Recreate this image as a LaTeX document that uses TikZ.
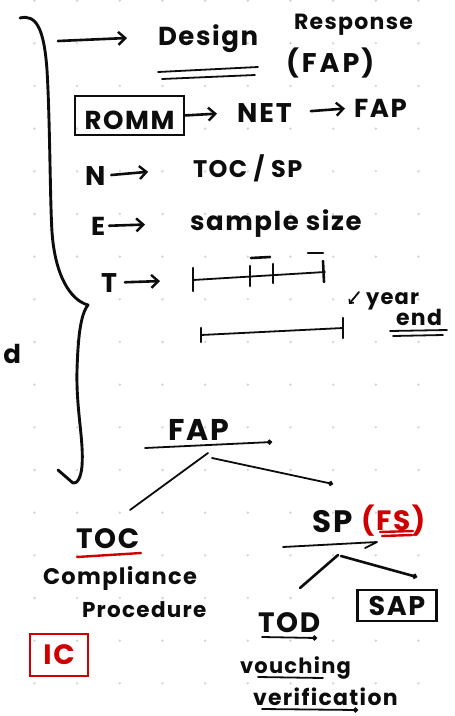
\documentclass[tikz,border=0pt]{standalone}
\usepackage{fontspec}
\setmainfont{Poppins}[LetterSpace=6]
\usetikzlibrary{arrows.meta}
\definecolor{ink}{HTML}{0D0D0D}
\definecolor{redink}{HTML}{D00000}
\definecolor{griddot}{HTML}{D2D2D2}
\begin{document}
\begin{tikzpicture}[x=1pt,y=-1pt,
  pen/.style={draw=ink,line width=2.6pt,line cap=round,line join=round},
  fine pen/.style={draw=ink,line width=1.8pt,line cap=round,line join=round},
  red pen/.style={draw=redink,line width=2.4pt,line cap=round,line join=round},
  hand/.style={inner sep=0pt,outer sep=0pt,anchor=base west,text=ink,
    font=\fontsize{#1}{#1}\selectfont\bfseries},
  red hand/.style={hand=#1,text=redink},
  barb/.style={-{Straight Barb[length=7pt,width=13pt,line width=2.4pt]}},
  dot end/.style={-{Circle[length=5pt]}},
]
\useasboundingbox (0,0) rectangle (455,716);
\fill[white] (0,0) rectangle (455,716);
% dotted page grid
\foreach \i in {0,...,9}
  \foreach \j in {0,...,16}
    \fill[griddot] ({34.5+42.67*\i},{0.6+42.67*\j}) circle (1.3pt);

% large curly brace
\draw[pen,line width=2.9pt] (20,18) .. controls (36,14) and (44,28) .. (47,70)
  .. controls (50,120) and (50,200) .. (52,232)
  .. controls (55,275) and (70,300) .. (88,305)
  .. controls (80,315) and (78,340) .. (77,370)
  .. controls (76,410) and (84,440) .. (82,466)
  .. controls (81,478) and (77,484) .. (73,483) -- (58,470);

% heading
\coordinate (lead0) at (58,41);
\coordinate (lead1) at (127,38);
\draw[pen,barb] (lead0) -- (lead1);
\node[hand=26] (design) at (158,45) {Design};
\draw[fine pen] (158,72) -- (258,67);
\draw[fine pen] (162,79) -- (255,75);
\node[hand=22] (respons) at (294,29) {Response};
\node[hand=27] (fapparen) at (286,72) {(\hspace{3pt}F\hspace{3pt}A\hspace{3pt}P\hspace{2pt})};

% ROMM -> NET -> FAP
\node[hand=26,anchor=center,draw=ink,line width=2.4pt,minimum width=109pt,
  minimum height=39pt,text height=28pt,text depth=0pt] (romm) at (129.5,115.5) {ROMM};
\node[hand=27] (net) at (237,122) {N\hspace{2pt}E\hspace{2pt}T};
\node[hand=26] (fapA) at (354,117) {FAP};
\draw[pen,barb,shorten <=1pt,shorten >=20pt] (romm.east) -- (net.west);
\draw[pen,barb,shorten <=19pt,shorten >=9pt] (net.east) -- (fapA.west);

% N, E, T
\node[hand=27] (nlet) at (85,185) {N};
\node[hand=24] (tocsp) at (193,177) {TOC / SP};
\draw[pen,barb,shorten <=6pt,shorten >=45pt] (nlet.east) -- (tocsp.west);

\node[hand=26] (elet) at (91,235) {E};
\node[hand=26] (sample) at (190,230) {sample size};
\draw[pen,barb,shorten <=4pt,shorten >=45pt] (elet.east) -- (sample.west);

\node[hand=27] (tlet) at (101,292) {T};
\coordinate (tA) at (193,280);
\coordinate (tB) at (325,272);
\draw[pen,barb,shorten <=8pt,shorten >=33pt] (tlet.east) -- (tA);
\draw[fine pen] (tA) -- (tB);
\draw[pen] (193,268) -- (193,291);
\draw[pen] (250,266) -- (250,286);
\draw[pen] (273,264) -- (273,283);
\draw[pen] (251,258) -- (270,257);
\draw[pen] (323,261) -- (324,282);
\draw[pen] (308,253) -- (323,253);

\coordinate (yA) at (201,335);
\coordinate (yB) at (343,328);
\draw[fine pen] (yA) -- (yB);
\draw[pen] (201,328) -- (201,342);
\draw[pen] (343,318) -- (343,338);

\coordinate (noteA) at (359,292);
\coordinate (noteB) at (349,304);
\draw[fine pen,-{Straight Barb[length=3pt,width=6pt,line width=1.6pt]}] (noteA) -- (noteB);
\node[hand=21] (year) at (366,304) {year};
\node[hand=22] (endw) at (396,325) {end};
\draw[fine pen] (390,331) -- (447,330);
\draw[fine pen] (393,336) -- (443,335);

\node[hand=26,anchor=base east] (dlet) at (21,363) {d};

% FAP split
\node[hand=30] (fapB) at (168,440) {FAP};
\draw[fine pen,dot end] (145,448) -- (272,442);
\coordinate (fork1) at (208,453);
\coordinate (fork1b) at (212,458);
\coordinate (left1) at (130,510);
\coordinate (right1) at (333,484);
\draw[fine pen] (fork1) -- (left1);
\draw[fine pen,dot end] (fork1b) -- (right1);

% tests of control side
\node[hand=28] (toc) at (76,548) {TOC};
\draw[red pen] (77,557) -- (141,553);
\node[hand=22.5] (compl) at (43,584) {Compliance};
\node[hand=21.5] (proc) at (82,617) {Procedure};
\node[red hand=28,anchor=center,draw=redink,line width=2.8pt,minimum width=58pt,
  minimum height=42pt] (ic) at (59,655) {IC};

% substantive side
\node[hand=31] (sp) at (312,532) {S\hspace{2pt}P};
\node[red hand=28] (fs) at (361,530) {(FS)};
\draw[red pen] (380,532) -- (413,531);
\draw[red pen] (382,536) -- (412,535);
\coordinate (spl0) at (283,547);
\coordinate (spl1) at (377,542);
\draw[fine pen] (spl0) -- (spl1) -- (365,548);
\coordinate (fork2) at (338,555);
\coordinate (fork2b) at (341,556);
\coordinate (left2) at (300,588);
\coordinate (right2) at (417,577);
\draw[pen] (fork2) -- (left2);
\draw[pen,dot end] (fork2b) -- (right2);
\node[hand=27,anchor=center,draw=ink,line width=2.8pt,minimum width=79pt,
  minimum height=31pt] (sap) at (397,605.5) {SAP};

\node[hand=28] (tod) at (258,632) {TOD};
\draw[fine pen,dot end] (262,637) -- (317,638);
\node[hand=21] (vouch) at (240,673) {vouching};
\draw[fine pen] (258,677) -- (323,678);
\node[hand=22] (verif) at (253,705) {verification};
\draw[fine pen,dot end] (262,709) -- (358,710);
\end{tikzpicture}
\end{document}
